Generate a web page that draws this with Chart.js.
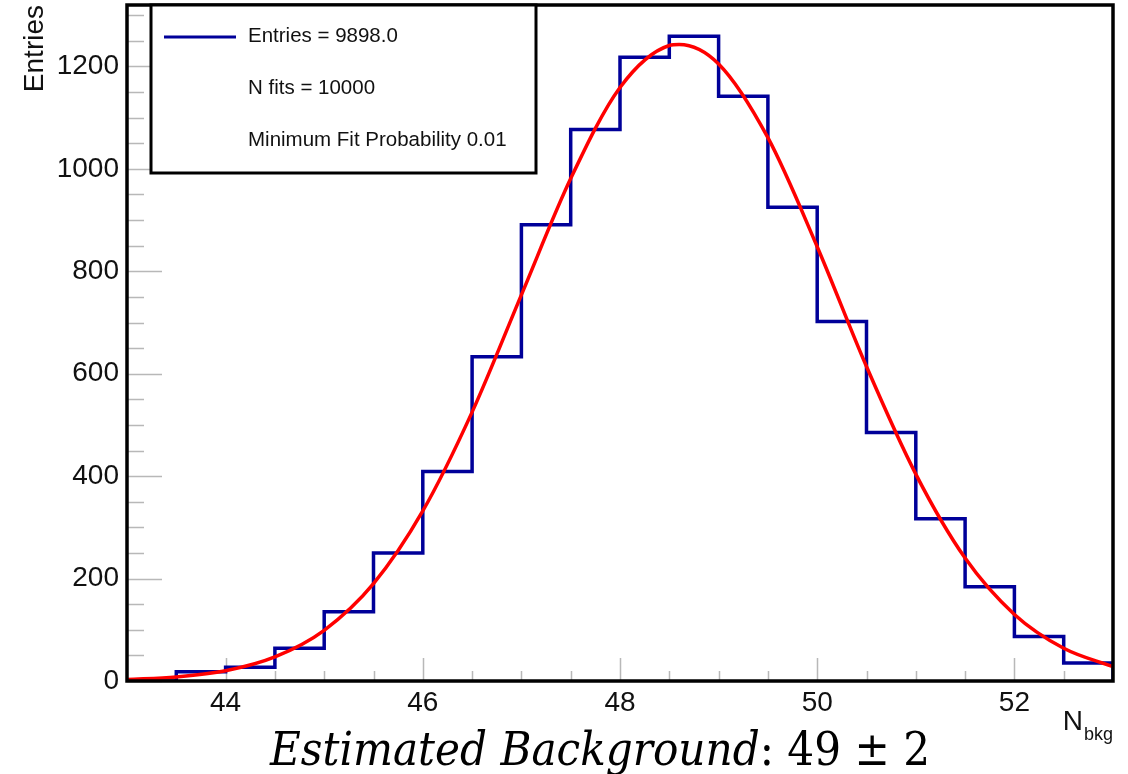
<!DOCTYPE html>
<html lang="en">
<head>
    <meta charset="UTF-8">
    <title>N bkg from toy fits</title>
    <script src="https://cdn.jsdelivr.net/npm/chart.js"></script>
    <style>
        html, body { margin: 0; padding: 0; background: #fff; }
        #wrap { width: 1128px; height: 774px; }
    </style>
</head>
<body>
<div id="wrap"><canvas id="nbkgChart" width="1128" height="774"></canvas></div>
<script>
    // histogram: low edge of each 0.5 wide bin and its entries
    const binLow = [43.5, 44, 44.5, 45, 45.5, 46, 46.5, 47, 47.5, 48, 48.5, 49, 49.5, 50, 50.5, 51, 51.5, 52, 52.5];
    const counts = [18, 27, 64, 135, 250, 409, 633, 891, 1077, 1218, 1259, 1142, 925, 702, 485, 317, 184, 87, 35];
    const binWidth = 0.5;

    // gaussian fit curve
    const fitX = [43, 43.5, 44, 44.5, 45, 45.5, 46, 46.5, 47, 47.5, 48, 48.5, 48.6, 49, 49.5, 50, 50.5, 51, 51.5, 52, 52.5, 53];
    const fitY = [3, 8, 20, 47, 99, 190, 332, 525, 754, 981, 1159, 1241, 1243, 1205, 1061, 848, 614, 404, 240, 130, 64, 28];

    // axes
    const xMin = 43, xMax = 53;
    const yMin = 0, yMax = 1320;
    const xTickLabels = [44, 46, 48, 50, 52];
    const yTickLabels = [0, 200, 400, 600, 800, 1000, 1200];
    const xMinorStep = 0.5;
    const yMinorStep = 50;

    // texts
    const histLabel = 'Entries = 9898.0';
    const statLines = ['N fits = 10000', 'Minimum Fit Probability 0.01'];
    const yTitle = 'Entries';
    const xTitleMain = 'N';
    const xTitleSub = 'bkg';
    const resultItalic = 'Estimated Background';
    const resultPlain = ': 49 \u00b1 2';

    const SANS = '"Liberation Sans", Arial, Helvetica, sans-serif';

    // build step points for the histogram (value holds until next edge)
    const histPoints = [{ x: xMin, y: 0 }];
    binLow.forEach((lo, i) => histPoints.push({ x: lo, y: counts[i] }));
    histPoints.push({ x: binLow[binLow.length - 1] + binWidth, y: 0 });

    const fitPoints = fitX.map((v, i) => ({ x: v, y: fitY[i] }));

    // inner tick marks (ROOT style)
    const innerTicks = {
        id: 'innerTicks',
        beforeDatasetsDraw(chart) {
            const { ctx, chartArea: a, scales: { x, y } } = chart;
            ctx.save();
            ctx.strokeStyle = '#b8b8b8';
            ctx.lineWidth = 1.5;
            ctx.beginPath();
            for (let v = yMin; v <= yMax; v += yMinorStep) {
                const py = Math.round(y.getPixelForValue(v)) + 0.5;
                const len = yTickLabels.includes(v) ? 35 : 17;
                ctx.moveTo(a.left, py);
                ctx.lineTo(a.left + len, py);
            }
            for (let v = xMin + xMinorStep; v < xMax; v += xMinorStep) {
                const px = Math.round(x.getPixelForValue(v)) + 0.5;
                const len = xTickLabels.includes(v) ? 23 : 10;
                ctx.moveTo(px, a.bottom);
                ctx.lineTo(px, a.bottom - len);
            }
            ctx.stroke();
            ctx.restore();
        }
    };

    // frame, stats box and the texts outside the axes
    const decorations = {
        id: 'decorations',
        afterDatasetsDraw(chart) {
            const { ctx, chartArea: a } = chart;
            ctx.save();

            // frame
            ctx.strokeStyle = '#000';
            ctx.lineWidth = 3.5;
            ctx.strokeRect(a.left, a.top, a.right - a.left, a.bottom - a.top);

            // stats box
            const bx = 151, by = a.top, bw = 385, bh = 168;
            ctx.fillStyle = '#fff';
            ctx.fillRect(bx, by, bw, bh);
            ctx.lineWidth = 3;
            ctx.strokeRect(bx, by, bw, bh);

            ctx.strokeStyle = '#000099';
            ctx.lineWidth = 3;
            ctx.beginPath();
            ctx.moveTo(164, 37);
            ctx.lineTo(236, 37);
            ctx.stroke();

            ctx.fillStyle = '#111';
            ctx.font = '20.5px ' + SANS;
            ctx.textAlign = 'left';
            ctx.textBaseline = 'middle';
            ctx.fillText(histLabel, 248, 36);
            statLines.forEach((t, i) => ctx.fillText(t, 248, 88 + i * 52));

            // y title
            ctx.save();
            ctx.translate(43, a.top);
            ctx.rotate(-Math.PI / 2);
            ctx.font = '28px ' + SANS;
            ctx.textAlign = 'right';
            ctx.textBaseline = 'alphabetic';
            ctx.fillText(yTitle, 0, 0);
            ctx.restore();

            // x title N_bkg
            ctx.font = '18px ' + SANS;
            ctx.textAlign = 'right';
            ctx.textBaseline = 'alphabetic';
            const subW = ctx.measureText(xTitleSub).width;
            ctx.fillText(xTitleSub, a.right, 740);
            ctx.font = '28px ' + SANS;
            ctx.fillText(xTitleMain, a.right - subW - 1, 730);

            // result line
            ctx.font = 'italic 46px "DejaVu Serif", serif';
            const w1 = ctx.measureText(resultItalic).width;
            ctx.font = '46px "DejaVu Serif", serif';
            const w2 = ctx.measureText(resultPlain).width;
            const sx = 660 / (w1 + w2);
            ctx.save();
            ctx.translate(270, 765);
            ctx.scale(sx, 1);
            ctx.textAlign = 'left';
            ctx.fillStyle = '#000';
            ctx.font = 'italic 46px "DejaVu Serif", serif';
            ctx.fillText(resultItalic, 0, 0);
            ctx.font = '46px "DejaVu Serif", serif';
            ctx.fillText(resultPlain, w1, 0);
            ctx.restore();

            ctx.restore();
        }
    };

    const config = {
        type: 'line',
        data: {
            datasets: [
                {
                    label: 'fit',
                    data: fitPoints,
                    borderColor: '#ff0000',
                    borderWidth: 3.5,
                    pointRadius: 0,
                    cubicInterpolationMode: 'monotone',
                    fill: false,
                    order: 0
                },
                {
                    label: histLabel,
                    data: histPoints,
                    borderColor: '#000099',
                    borderWidth: 3.5,
                    pointRadius: 0,
                    stepped: 'before',
                    fill: false,
                    order: 1
                }
            ]
        },
        options: {
            responsive: false,
            animation: false,
            layout: { padding: { top: 5, right: 15, left: 0, bottom: 0 } },
            plugins: {
                legend: { display: false },
                tooltip: { enabled: false }
            },
            scales: {
                x: {
                    type: 'linear',
                    min: xMin,
                    max: xMax,
                    grid: { display: false },
                    border: { display: false },
                    afterBuildTicks: (s) => { s.ticks = xTickLabels.map(v => ({ value: v })); },
                    afterFit: (s) => { s.height = 93; s.paddingLeft = 0; s.paddingRight = 0; },
                    ticks: {
                        color: '#111',
                        padding: -3,
                        maxRotation: 0,
                        callback: (v) => String(v),
                        font: { family: SANS, size: 28 }
                    }
                },
                y: {
                    type: 'linear',
                    min: yMin,
                    max: yMax,
                    grid: { display: false },
                    border: { display: false },
                    afterBuildTicks: (s) => { s.ticks = yTickLabels.map(v => ({ value: v })); },
                    afterFit: (s) => { s.width = 127; s.paddingTop = 0; s.paddingBottom = 0; },
                    ticks: {
                        color: '#111',
                        padding: 0,
                        callback: (v) => String(v),
                        font: { family: SANS, size: 28 }
                    }
                }
            }
        },
        plugins: [innerTicks, decorations]
    };

    new Chart(document.getElementById('nbkgChart').getContext('2d'), config);
</script>
</body>
</html>
